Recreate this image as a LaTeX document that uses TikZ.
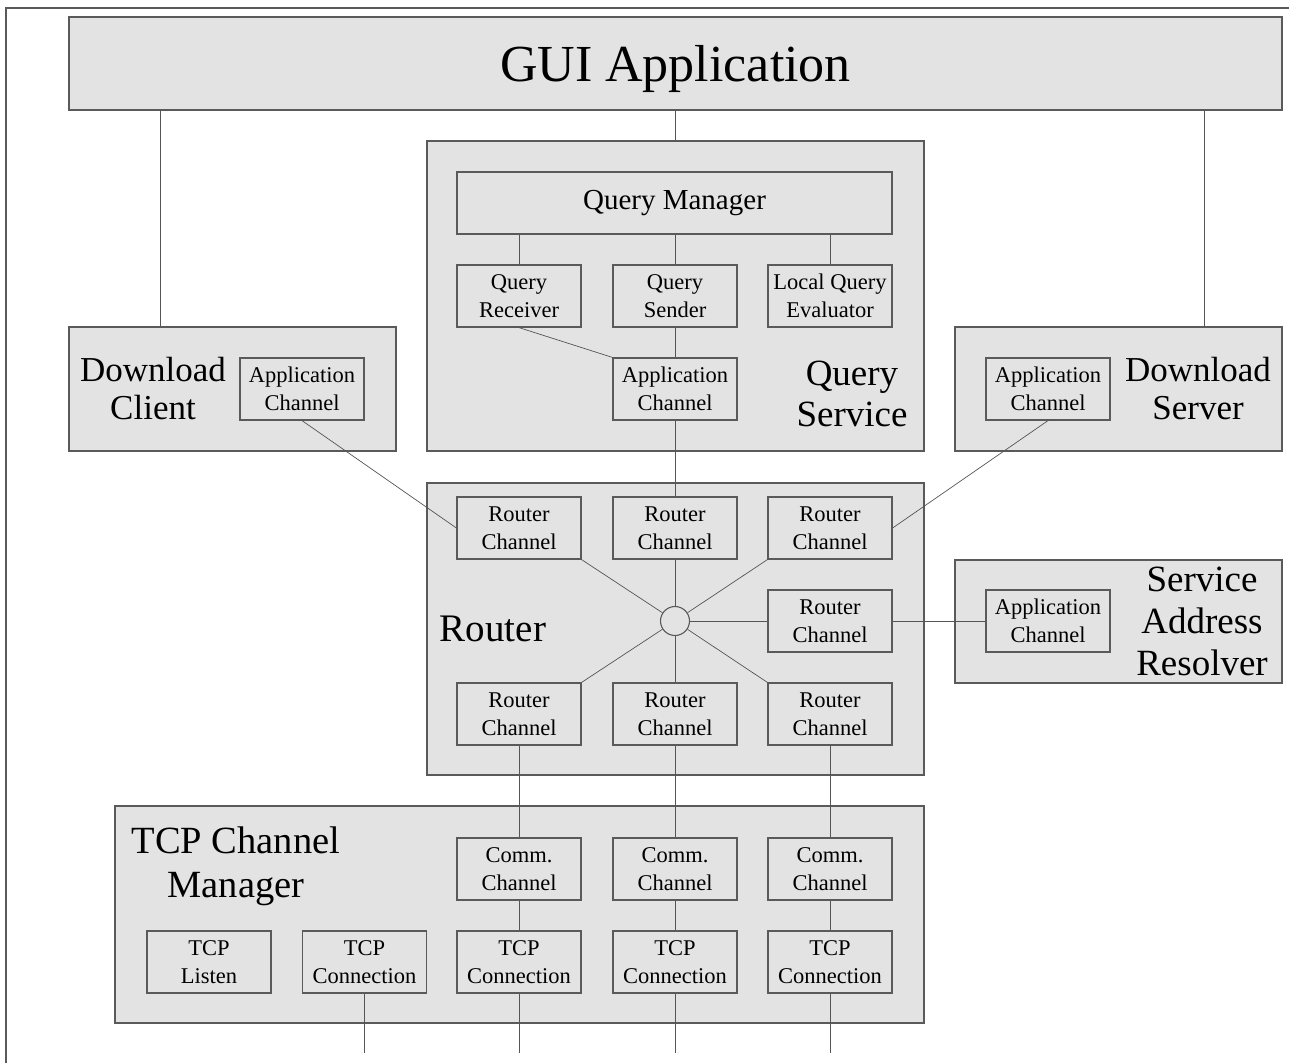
\documentclass[tikz,border=0pt]{standalone}
\usepackage{fontspec}
\setmainfont{Liberation Serif}
\definecolor{boxfill}{RGB}{227,227,227}
\definecolor{edge}{RGB}{90,90,90}
\definecolor{wire}{RGB}{85,85,85}
\tikzset{
  area/.style={draw=edge, fill=boxfill, line width=1.2pt, inner sep=0pt},
  part/.style={area, minimum width=124pt, minimum height=62pt, align=center,
    font=\fontsize{22.5}{27.5}\selectfont},
  biglabel/.style={align=center, inner sep=0pt, font=\fontsize{38}{43}\selectfont},
  wire/.style={draw=wire, line width=0.9pt},
  thinwire/.style={draw=wire, line width=0.7pt},
}
\begin{document}
\begin{tikzpicture}[x=1pt,y=-1pt]
\useasboundingbox (0,0) rectangle (1289,1063);
% outer frame (top and left)
\coordinate (fbl) at (6,1063);
\coordinate (ftl) at (6,8);
\coordinate (ftr) at (1289,8);
\draw[draw=edge, line width=1.2pt] (fbl) -- (ftl) -- (ftr);

% GUI
\node[area, minimum width=1213pt, minimum height=93pt, text depth=0pt, font=\fontsize{52}{60}\selectfont] (gui) at (675.5,63.5) {GUI Application};

% Query Service
\node[area, minimum width=497pt, minimum height=310pt] (qs) at (675.5,296) {};
\node[part, minimum width=435pt, font=\fontsize{29}{32}\selectfont] (qm) at (674.5,203) {Query Manager};
\node[part] (qr) at (519,296) {Query\\Receiver};
\node[part] (qsd) at (675,296) {Query\\Sender};
\node[part] (lqe) at (830,296) {Local Query\\Evaluator};
\node[part] (qac) at (675,389) {Application\\Channel};
\node[biglabel, font=\fontsize{37}{41}\selectfont] (qsl) at (852,394) {Query\\Service};

% Download Client
\node[area, minimum width=327pt, minimum height=124pt] (dc) at (232.5,389) {};
\node[part] (dcac) at (302,389) {Application\\Channel};
\node[biglabel, font=\fontsize{35}{38}\selectfont] (dcl) at (153,389) {Download\\Client};

% Download Server
\node[area, minimum width=327pt, minimum height=124pt] (ds) at (1118.5,389) {};
\node[part] (dsac) at (1048,389) {Application\\Channel};
\node[biglabel, font=\fontsize{35}{38}\selectfont] (dsl) at (1198,389) {Download\\Server};

% Router
\node[area, minimum width=497pt, minimum height=292pt] (rt) at (675.5,629) {};
\node[part] (rc1) at (519,528) {Router\\Channel};
\node[part] (rc2) at (675,528) {Router\\Channel};
\node[part] (rc3) at (830,528) {Router\\Channel};
\node[part] (rc4) at (830,621) {Router\\Channel};
\node[part] (rc5) at (519,714) {Router\\Channel};
\node[part] (rc6) at (675,714) {Router\\Channel};
\node[part] (rc7) at (830,714) {Router\\Channel};
\node[circle, draw=edge, fill=boxfill, line width=1.1pt, minimum size=29pt, inner sep=0pt] (hub) at (675,621) {};
\node[biglabel, font=\fontsize{39}{44}\selectfont] (rtl) at (493,629) {Router};

% Service Address Resolver
\node[area, minimum width=327pt, minimum height=123pt] (sar) at (1118.5,621.5) {};
\node[part] (sarac) at (1048,621) {Application\\Channel};
\node[biglabel, font=\fontsize{37}{42}\selectfont] (sarl) at (1202,621) {Service\\Address\\Resolver};

% TCP Channel Manager
\node[area, minimum width=809pt, minimum height=217pt] (tcm) at (519.5,914.5) {};
\node[part] (cc1) at (519,869) {Comm.\\Channel};
\node[part] (cc2) at (675,869) {Comm.\\Channel};
\node[part] (cc3) at (830,869) {Comm.\\Channel};
\node[part] (tl) at (209,962) {TCP\\Listen};
\node[part] (tc0) at (364.5,962) {TCP\\Connection};
\node[part] (tc1) at (519,962) {TCP\\Connection};
\node[part] (tc2) at (675,962) {TCP\\Connection};
\node[part] (tc3) at (830,962) {TCP\\Connection};
\node[biglabel, font=\fontsize{38.5}{44}\selectfont] (tcml) at (236,866) {TCP Channel\\Manager};

% free ends below
\coordinate (e0) at (364.5,1053);
\coordinate (e1) at (519,1053);
\coordinate (e2) at (675,1053);
\coordinate (e3) at (830,1053);

% connectors
\draw[wire] (gui.south -| 160,0) -- (dc.north -| 160,0);
\draw[wire] (gui.south -| 1204,0) -- (ds.north -| 1204,0);
\draw[wire] (gui.south -| qs.north) -- (qs.north);
\draw[wire] (qm.south -| qr.north) -- (qr.north);
\draw[wire] (qm.south -| qsd.north) -- (qsd.north);
\draw[wire] (qm.south -| lqe.north) -- (lqe.north);
\draw[wire] (qsd.south) -- (qac.north);
\draw[thinwire] (qr.south) -- (qac.north west);
\draw[wire] (qac.south) -- (rc2.north);
\draw[thinwire] (dcac.south) -- (rc1.west);
\draw[thinwire] (dsac.south) -- (rc3.east);
\draw[wire] (rc4.east) -- (sarac.west);

\draw[thinwire] (hub) -- (rc1.south east);
\draw[wire] (hub) -- (rc2.south);
\draw[thinwire] (hub) -- (rc3.south west);
\draw[wire] (hub) -- (rc4.west);
\draw[thinwire] (hub) -- (rc5.north east);
\draw[wire] (hub) -- (rc6.north);
\draw[thinwire] (hub) -- (rc7.north west);

\draw[wire] (rc5.south) -- (cc1.north);
\draw[wire] (rc6.south) -- (cc2.north);
\draw[wire] (rc7.south) -- (cc3.north);
\draw[wire] (cc1.south) -- (tc1.north);
\draw[wire] (cc2.south) -- (tc2.north);
\draw[wire] (cc3.south) -- (tc3.north);
\draw[thinwire] (tc0.south) -- (e0);
\draw[thinwire] (tc1.south) -- (e1);
\draw[thinwire] (tc2.south) -- (e2);
\draw[thinwire] (tc3.south) -- (e3);
\end{tikzpicture}
\end{document}
